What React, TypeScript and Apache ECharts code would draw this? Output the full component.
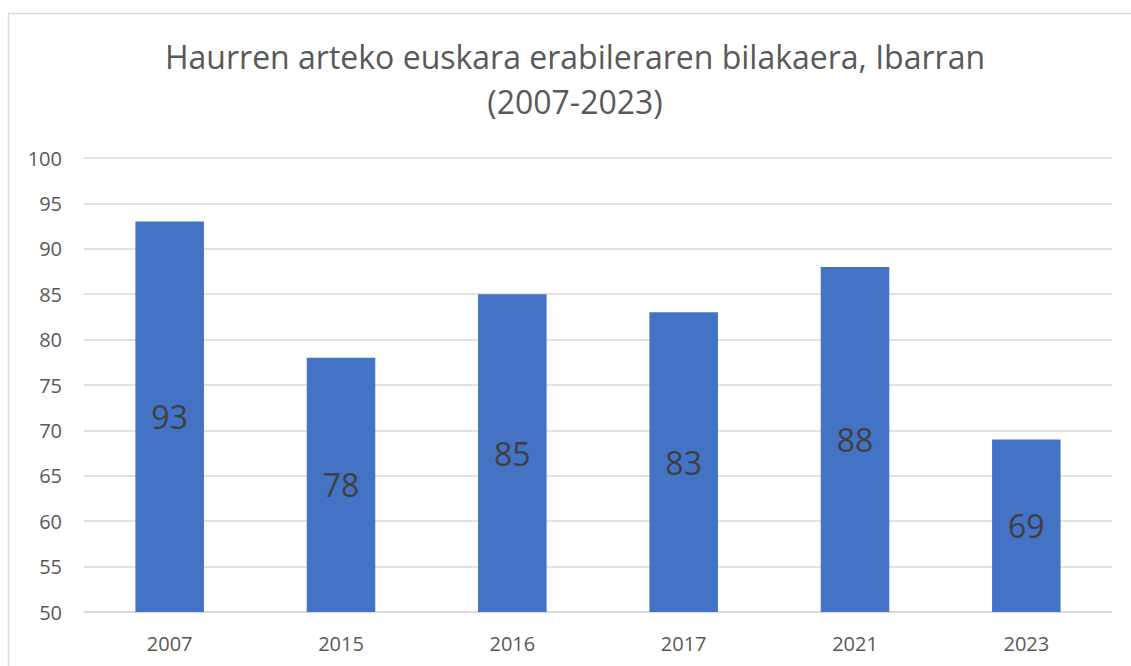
import React, { useEffect, useRef } from "react";
import * as echarts from "echarts";

const titleLines = ["Haurren arteko euskara erabileraren bilakaera, Ibarran", "(2007-2023)"];
const years = ["2007", "2015", "2016", "2017", "2021", "2023"];
const values = [93, 78, 85, 83, 88, 69];
const yMin = 50;
const yMax = 100;
const yStep = 5;

const FONT = "'Open Sans', sans-serif";

export default function App() {
  const ref = useRef<HTMLDivElement>(null);
  useEffect(() => {
    if (!ref.current) return;
    const chart = echarts.init(ref.current, null, { renderer: "svg" });
    chart.setOption({
      animation: false,
      backgroundColor: "#ffffff",
      title: {
        text: titleLines.join("\n"),
        left: 575,
        top: 34,
        padding: 0,
        textAlign: "center",
        textStyle: {
          fontFamily: FONT,
          fontSize: 32,
          fontWeight: "normal",
          color: "#595959",
          lineHeight: 45,
        },
      },
      graphic: [
        {
          type: "rect",
          silent: true,
          shape: { x: 8.5, y: 13.5, width: 1200, height: 700 },
          style: { fill: "none", stroke: "#d9d9d9", lineWidth: 1.5 },
          z: -1,
        },
      ],
      grid: { left: 84, right: 19, top: 158, bottom: 54, containLabel: false },
      xAxis: {
        type: "category",
        data: years,
        axisLine: { show: true, lineStyle: { color: "#d9d9d9", width: 1.5 } },
        axisTick: { show: false },
        axisLabel: { fontFamily: FONT, fontSize: 20, color: "#595959", margin: 21 },
      },
      yAxis: {
        type: "value",
        min: yMin,
        max: yMax,
        interval: yStep,
        axisLine: { show: false },
        axisTick: { show: false },
        axisLabel: { fontFamily: FONT, fontSize: 20, color: "#595959", margin: 22 },
        splitLine: { lineStyle: { color: "#d9d9d9", width: 1.5 } },
      },
      series: [
        {
          type: "bar",
          data: values,
          barWidth: "40%",
          itemStyle: { color: "#4472c4" },
          label: {
            show: true,
            position: "inside",
            fontFamily: FONT,
            fontSize: 32,
            color: "#404040",
          },
        },
      ],
    });
    return () => chart.dispose();
  }, []);
  return (
    <div
      ref={ref}
      style={{ position: "fixed", left: 0, top: 0, width: 1131, height: 666 }}
    />
  );
}
